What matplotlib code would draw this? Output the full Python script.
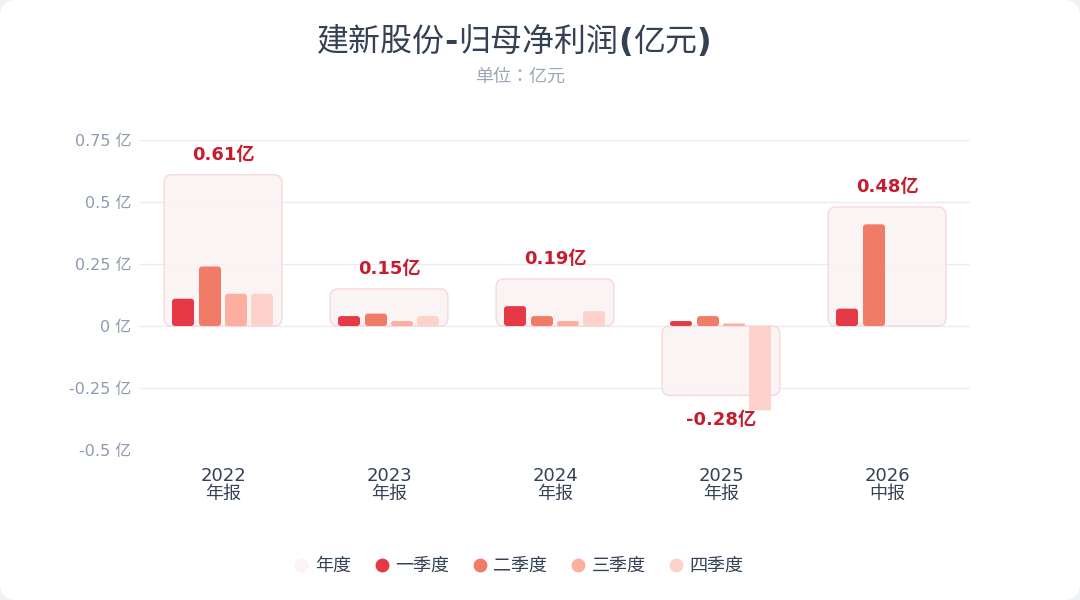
import numpy as np
import matplotlib
matplotlib.use("Agg")
import matplotlib.pyplot as plt
from matplotlib.patches import FancyBboxPatch
from matplotlib.lines import Line2D
from matplotlib.transforms import IdentityTransform

plt.rcParams['font.family'] = ['DejaVu Sans', 'Noto Sans CJK SC']

# ---------------- data ----------------
years = ['2022', '2023', '2024', '2025', '2026']
periods = ['年报', '年报', '年报', '年报', '中报']
annual = [0.61, 0.15, 0.19, -0.28, 0.48]
q1 = [0.11, 0.04, 0.08, 0.02, 0.07]
q2 = [0.24, 0.05, 0.04, 0.04, 0.41]
q3 = [0.13, 0.02, 0.02, 0.01, np.nan]
q4 = [0.13, 0.04, 0.06, -0.34, np.nan]
series_names = ['一季度', '二季度', '三季度', '四季度']
y_ticks = [-0.5, -0.25, 0, 0.25, 0.5, 0.75]
y_tick_labels = ['-0.5 亿', '-0.25 亿', '0 亿', '0.25 亿', '0.5 亿', '0.75 亿']

title_runs = ['建新股份', '-', '归母净利润', '(', '亿元', ')']
subtitle = '单位：亿元'

# ---------------- styles ----------------
q_colors = ['#e63946', '#f07b67', '#fcafa0', '#fdd2ca']
annual_fill = '#fbf3f4'
annual_edge = '#f5d3d7'
label_color = '#c41e2e'
tick_color = '#8e9ab0'
text_dark = '#334155'
grid_color = '#ebebf0'
CJK = ['Noto Sans CJK SC', 'DejaVu Sans']

W, H = 1080, 600
fig = plt.figure(figsize=(W / 100, H / 100), dpi=100)
fig.patch.set_facecolor('#f1f2f4')
card = FancyBboxPatch((0, 0), 1, 1, boxstyle="round,pad=0,rounding_size=0.015",
                      mutation_aspect=W / H, transform=fig.transFigure,
                      facecolor='white', edgecolor='none', zorder=-10)
fig.patches.append(card)

ax = fig.add_axes([140 / W, 150 / H, 830 / W, 310 / H])
ax.set_facecolor('none')
ax.set_xlim(-0.5, len(years) - 0.5)
ax.set_ylim(-0.5, 0.75)

px_x = 830 / len(years)
px_y = 310 / 1.25
aspect = px_x / px_y

x = np.arange(len(years))

# annual boxes
box_w = 0.71
ann_bars = ax.bar(x, annual, width=box_w, color=annual_fill, zorder=1)
for rect in ann_bars:
    rect.set_visible(False)
    bx, by = rect.get_x(), rect.get_y()
    bw, bh = rect.get_width(), rect.get_height()
    y0 = min(by, by + bh)
    patch = FancyBboxPatch((bx, y0), bw, abs(bh),
                           boxstyle="round,pad=0,rounding_size=%f" % (8 / px_x),
                           mutation_aspect=aspect, facecolor=annual_fill, alpha=0.85,
                           edgecolor=annual_edge, linewidth=1.0, zorder=1)
    ax.add_patch(patch)

for xi, v in zip(x, annual):
    ax.annotate(f'{v:.2f}亿', (xi, v), xytext=(0, 14.5 if v >= 0 else -17.5),
                textcoords='offset points', ha='center', va='center',
                fontsize=13, fontweight='bold', color=label_color, zorder=5)

# quarterly bars
bar_w = 22 / px_x
offsets = np.array([-40, -13, 13, 39]) / px_x
for qi, (vals, col) in enumerate(zip([q1, q2, q3, q4], q_colors)):
    bars = ax.bar(x + offsets[qi], vals, width=bar_w, color=col, zorder=3)
    for rect in bars:
        h = rect.get_height()
        if not np.isfinite(h) or h == 0:
            continue
        rect.set_visible(False)
        bx, by, bw = rect.get_x(), rect.get_y(), rect.get_width()
        y0 = min(by, by + h)
        hpx = abs(h) * px_y
        r = min(3.0, hpx / 2 - 0.01)
        if h < 0:
            r = 0.01
        patch = FancyBboxPatch((bx, y0), bw, abs(h),
                               boxstyle="round,pad=0,rounding_size=%f" % (max(r, 0.01) / px_x),
                               mutation_aspect=aspect, facecolor=col, edgecolor='none',
                               zorder=3)
        ax.add_patch(patch)

# axes styling
ax.set_yticks(y_ticks)
ax.set_yticklabels(y_tick_labels)
ax.set_xticks(x)
ax.set_xticklabels([f'{y}\n{p}' for y, p in zip(years, periods)], linespacing=1.0)
ax.tick_params(axis='y', length=0, pad=6, labelsize=11.5, labelcolor=tick_color)
ax.tick_params(axis='x', length=0, pad=12.5, labelsize=13, labelcolor=text_dark)
for s in ax.spines.values():
    s.set_visible(False)
ax.grid(axis='y', color=grid_color, linewidth=1.0, zorder=0)
ax.set_axisbelow(True)

# title: CJK regular, punctuation bold (as in the reference rendering)
renderer = fig.canvas.get_renderer()
pieces = []
for run in title_runs:
    if run in '-()':
        t = fig.text(0, 0, run, fontsize=23, color=text_dark, fontweight='bold',
                     family=['DejaVu Sans'], va='center', ha='left',
                     transform=IdentityTransform())
    else:
        t = fig.text(0, 0, run, fontsize=23, color=text_dark, family=CJK,
                     va='center', ha='left', transform=IdentityTransform())
    pieces.append(t)
widths = [p.get_window_extent(renderer).width for p in pieces]
total = sum(widths)
cx, cy = 514, H - 42
xpos = cx - total / 2
for p, w in zip(pieces, widths):
    p.set_position((xpos, cy))
    xpos += w

fig.text(520 / W, 1 - 77 / H, subtitle, ha='center', va='center', fontsize=13,
         color='#9aa6ba', family=['Noto Sans CJK JP', 'DejaVu Sans'])

# legend
handles = [Line2D([], [], marker='o', linestyle='', markersize=10,
                  markerfacecolor=annual_fill, markeredgecolor='none')]
for col in q_colors:
    handles.append(Line2D([], [], marker='o', linestyle='', markersize=10,
                          markerfacecolor=col, markeredgecolor='none'))
labels = ['年度'] + series_names
leg = fig.legend(handles, labels, loc='center', bbox_to_anchor=(519 / W, 1 - 566 / H),
                 ncol=5, frameon=False, handlelength=0.8,
                 handletextpad=0.35, columnspacing=1.3,
                 prop={'family': CJK, 'size': 13})
for t in leg.get_texts():
    t.set_color(text_dark)

fig.savefig('out.png', dpi=100, facecolor=fig.get_facecolor())
